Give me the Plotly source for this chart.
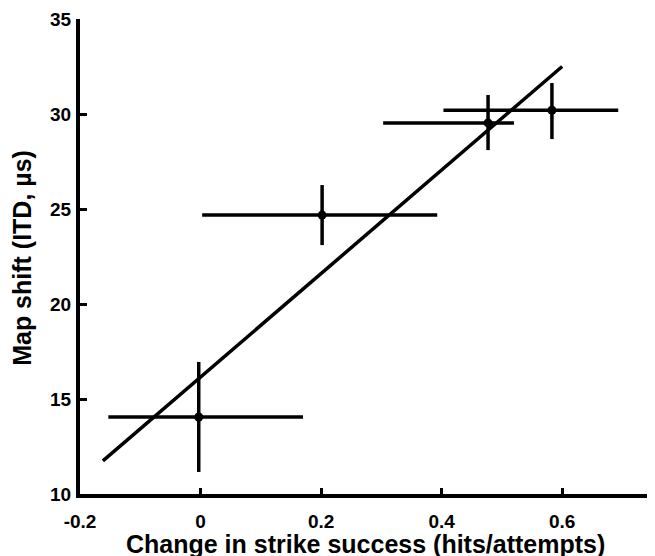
import plotly.graph_objects as go

# Data
x_vals = [-0.003, 0.2017, 0.477, 0.583]
y_vals = [14.05, 24.68, 29.53, 30.2]
x_err_plus = [0.173, 0.191, 0.043, 0.11]
x_err_minus = [0.150, 0.199, 0.174, 0.18]
y_err_plus = [2.9, 1.58, 1.47, 1.43]
y_err_minus = [2.89, 1.58, 1.43, 1.52]

fit_x = [-0.162, 0.600]
fit_y = [11.74, 32.5]

x_tickvals = [-0.2, 0, 0.2, 0.4, 0.6]
x_ticktext = ["-0.2", "0", "0.2", "0.4", "0.6"]
y_tickvals = [10, 15, 20, 25, 30, 35]
y_ticktext = ["10", "15", "20", "25", "30", "35"]

FONT = "Liberation Sans, Arial, sans-serif"

fig = go.Figure()

fig.add_trace(go.Scatter(
    x=fit_x, y=fit_y, mode="lines",
    line=dict(color="black", width=3.5),
    showlegend=False, cliponaxis=False,
))

fig.add_trace(go.Scatter(
    x=x_vals, y=y_vals, mode="markers",
    marker=dict(color="black", size=9),
    error_x=dict(type="data", symmetric=False, array=x_err_plus,
                 arrayminus=x_err_minus, color="black", thickness=3.5, width=0),
    error_y=dict(type="data", symmetric=False, array=y_err_plus,
                 arrayminus=y_err_minus, color="black", thickness=3.5, width=0),
    showlegend=False, cliponaxis=False,
))

fig.update_layout(
    width=647, height=548,
    margin=dict(l=72, r=0, t=11, b=62, autoexpand=False),
    plot_bgcolor="white", paper_bgcolor="white",
    font=dict(family=FONT, color="black"),
    xaxis=dict(
        range=[-0.2, 0.754], showgrid=False, zeroline=False,
        showline=True, linecolor="black", linewidth=4,
        ticks="inside", ticklen=6, tickwidth=3, tickcolor="black",
        tickvals=x_tickvals, ticktext=["<b>%s</b>" % t for t in x_ticktext],
        tickfont=dict(family=FONT, size=19, color="black", weight="bold"),
        ticklabelstandoff=7,
    ),
    yaxis=dict(
        range=[10, 35], showgrid=False, zeroline=False,
        showline=True, linecolor="black", linewidth=4,
        ticks="inside", ticklen=7, tickwidth=3, tickcolor="black",
        tickvals=y_tickvals, ticktext=["<b>%s</b>" % t for t in y_ticktext],
        tickfont=dict(family=FONT, size=19, color="black", weight="bold"),
        ticklabelstandoff=1,
    ),
    annotations=[
        dict(text="<b>Change in strike success (hits/attempts)</b>",
             xref="paper", yref="paper", x=0.497, y=-0.105,
             xanchor="center", yanchor="middle", showarrow=False,
             font=dict(family=FONT, size=25, color="black")),
        dict(text="<b>Map shift (ITD, µs)</b>",
             xref="paper", yref="paper", x=-0.101, y=0.497,
             xanchor="center", yanchor="middle", showarrow=False,
             textangle=-90,
             font=dict(family=FONT, size=25, color="black")),
    ],
)

fig.write_html("out.html")
